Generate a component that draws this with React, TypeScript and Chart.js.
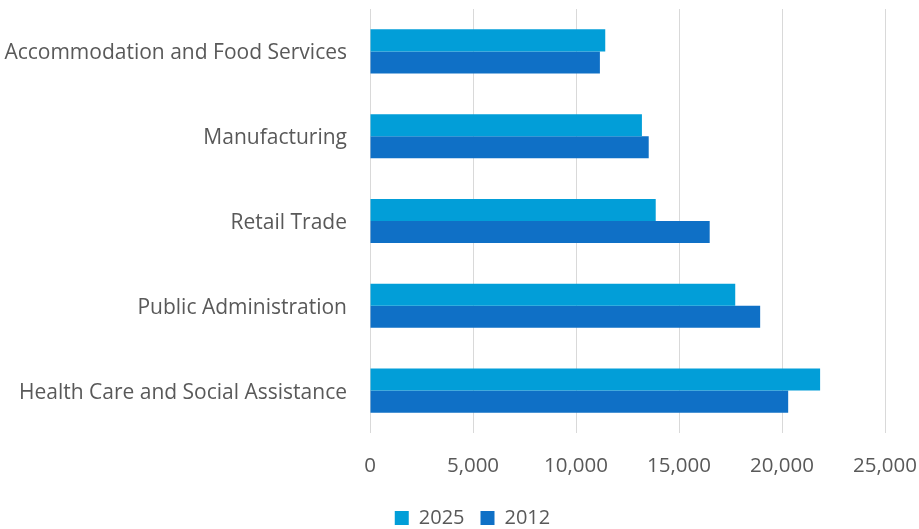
import React, { useEffect, useRef } from "react";
import { Chart, registerables } from "chart.js";

Chart.register(...registerables);

const categories = [
  "Accommodation and Food Services",
  "Manufacturing",
  "Retail Trade",
  "Public Administration",
  "Health Care and Social Assistance",
];
const values2025 = [11420, 13200, 13870, 17730, 21850];
const values2012 = [11160, 13530, 16490, 18940, 20300];
const seriesLabels = ["2025", "2012"];
const xTickMin = 0;
const xTickMax = 25000;
const xTickStep = 5000;

const TEXT = "#595959";
const FONT = "'Open Sans', sans-serif";

const legendShift = {
  id: "legendShift",
  afterLayout(chart: any) {
    if (chart.legend) {
      chart.legend.left = 60;
    }
  },
};

export default function App() {
  const ref = useRef<HTMLCanvasElement | null>(null);

  useEffect(() => {
    if (!ref.current) return;
    const chart = new Chart(ref.current, {
      type: "bar",
      data: {
        labels: categories,
        datasets: [
          {
            label: seriesLabels[0],
            data: values2025,
            backgroundColor: "#029ED8",
            borderWidth: 0,
            categoryPercentage: 0.52,
            barPercentage: 1,
          },
          {
            label: seriesLabels[1],
            data: values2012,
            backgroundColor: "#0F70C6",
            borderWidth: 0,
            categoryPercentage: 0.52,
            barPercentage: 1,
          },
        ],
      },
      plugins: [legendShift],
      options: {
        indexAxis: "y",
        responsive: false,
        animation: false,
        layout: { padding: { top: 9, right: 34, left: 0, bottom: -9 } },
        plugins: {
          tooltip: { enabled: false },
          legend: {
            position: "bottom",
            labels: {
              color: TEXT,
              font: { family: FONT, size: 20 },
              boxWidth: 14,
              boxHeight: 14,
              padding: 16,
            },
          },
        },
        scales: {
          x: {
            min: xTickMin,
            max: xTickMax,
            ticks: {
              stepSize: xTickStep,
              color: TEXT,
              font: { family: FONT, size: 20.5 },
              padding: 21,
              maxRotation: 0,
              callback: (v: any) => Number(v).toLocaleString("en-US"),
            },
            grid: { color: "#D9D9D9", lineWidth: 1, drawTicks: false },
            border: { display: false },
            afterFit: (scale: any) => {
              scale.height = 59;
              scale.paddingLeft = 0;
              scale.paddingRight = 0;
            },
          },
          y: {
            ticks: {
              color: TEXT,
              font: { family: FONT, size: 21 },
              padding: 23,
              labelOffset: 2,
            },
            grid: { display: false, drawTicks: false },
            border: { display: false },
            afterFit: (scale: any) => {
              scale.width = 370;
              scale.paddingTop = 0;
              scale.paddingBottom = 0;
            },
          },
        },
      },
    });
    return () => chart.destroy();
  }, []);

  return (
    <div style={{ position: "absolute", left: 0, top: 0, width: 919, height: 529, background: "#fff" }}>
      <canvas ref={ref} width={919} height={529} style={{ display: "block" }} />
    </div>
  );
}
